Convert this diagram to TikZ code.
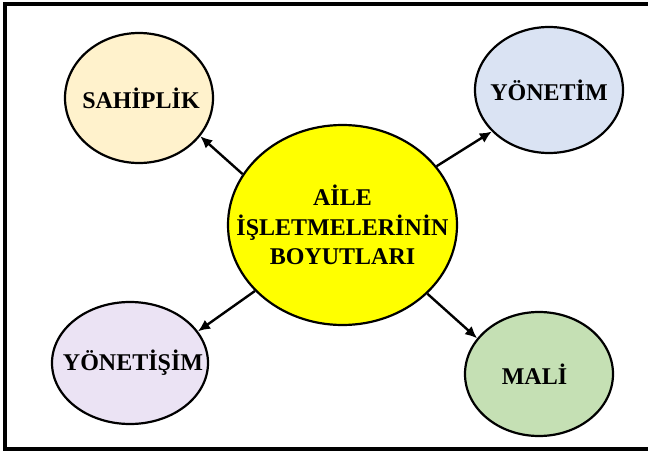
\documentclass[tikz,border=0pt]{standalone}
\usepackage{fontspec}
\setmainfont{Liberation Serif}
\usetikzlibrary{shapes.geometric,arrows.meta}
\definecolor{ownfill}{HTML}{FFF2CC}
\definecolor{mgmtfill}{HTML}{DAE3F3}
\definecolor{govfill}{HTML}{EBE3F4}
\definecolor{finfill}{HTML}{C5E0B4}
\definecolor{corefill}{HTML}{FFFF00}
\tikzset{
  bubble/.style={ellipse, draw=black, line width=2.2pt, inner sep=0pt},
  caption/.style={font=\fontsize{24}{29.5}\selectfont\bfseries, align=center, inner sep=0pt},
  link/.style={line width=2.4pt, -{Latex[length=12pt,width=11pt]}}
}
\begin{document}
\begin{tikzpicture}[x=1pt,y=-1pt]
\useasboundingbox (0,0) rectangle (648,455);
\draw[line width=3.2pt] (5,4) rectangle (652,449);

\node[bubble, fill=corefill, minimum width=229pt, minimum height=200pt,
  label={[caption]center:AİLE\\İŞLETMELERİNİN\\BOYUTLARI}] (core) at (342.5,225) {};
\node[bubble, fill=ownfill, minimum width=148pt, minimum height=130pt,
  label={[caption, xshift=2pt]center:SAHİPLİK}] (own) at (139,98) {};
\node[bubble, fill=mgmtfill, minimum width=148pt, minimum height=126pt,
  label={[caption]center:YÖNETİM}] (mgmt) at (549,90) {};
\node[bubble, fill=govfill, minimum width=156pt, minimum height=122pt,
  label={[caption, xshift=3pt]center:YÖNETİŞİM}] (gov) at (130,363) {};
\node[bubble, fill=finfill, minimum width=148pt, minimum height=124pt,
  label={[caption, xshift=-4.5pt]center:MALİ}] (fin) at (539,374) {};

\draw[link] (core.153.8) -- (own.-32.5);
\draw[link] (core.32.4) -- (mgmt.216.4);
\draw[link] (core.217.4) -- (gov.25.9);
\draw[link] (core.-39.6) -- (fin.150.7);
\end{tikzpicture}
\end{document}
